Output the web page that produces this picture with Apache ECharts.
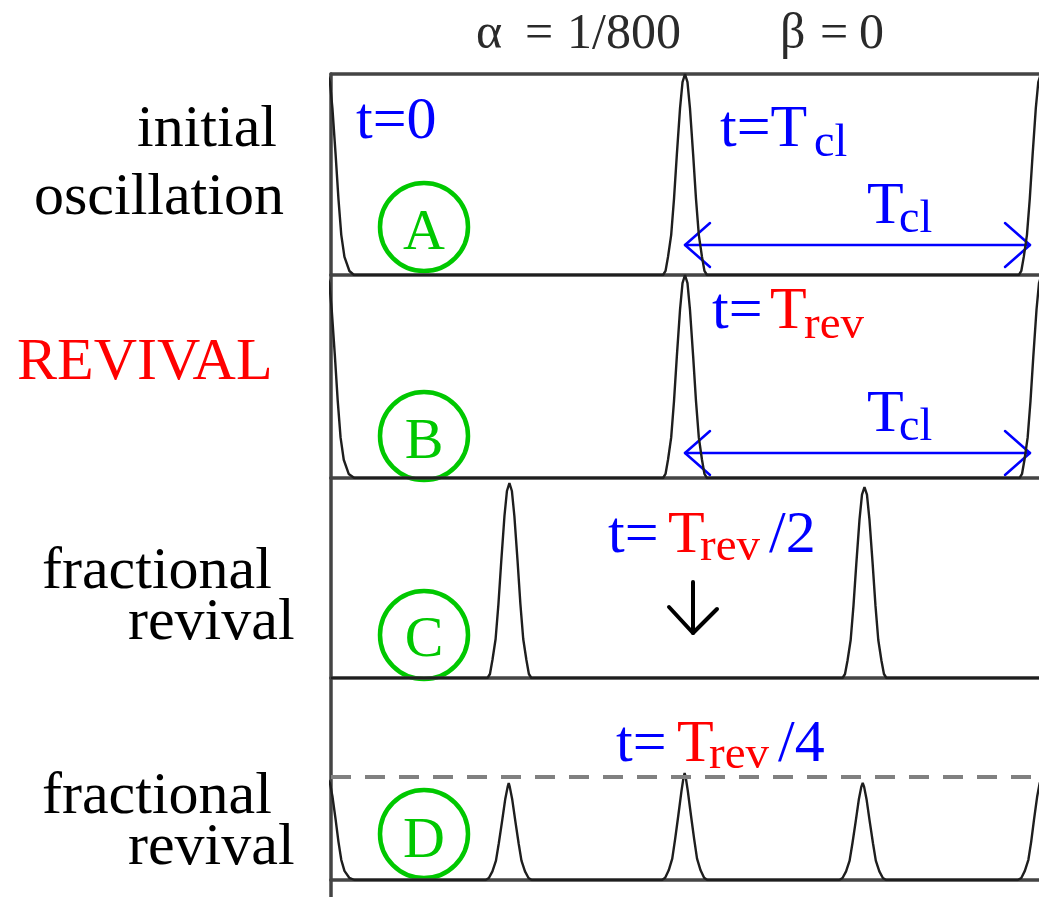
<!DOCTYPE html>
<html>
<head>
<meta charset="utf-8">
<script src="https://cdn.jsdelivr.net/npm/echarts@6/dist/echarts.min.js"></script>
<style>html,body{margin:0;padding:0;background:#fff;}#c{width:1039px;height:897px;}</style>
</head>
<body>
<div id="c"></div>
<script>
// ---- data (x in units of T_cl, y as fraction of panel height) ----
const panelNames = ['A', 'B', 'C', 'D'];
const peaksA = [[-0.01,1],[-0.003,0.96],[0.004,0.83],[0.013,0.6],[0.021,0.38],[0.029,0.2],[0.038,0.09],[0.052,0.02],[0.065,0],
  [0.938,0],[0.945,0.02],[0.952,0.09],[0.961,0.2],[0.969,0.38],[0.977,0.6],[0.986,0.83],[0.993,0.96],[1.0,1],
  [1.007,0.96],[1.014,0.83],[1.023,0.6],[1.031,0.38],[1.039,0.2],[1.048,0.09],[1.055,0.02],[1.062,0],
  [1.943,0],[1.95,0.02],[1.957,0.09],[1.966,0.2],[1.974,0.38],[1.982,0.6],[1.991,0.83],[1.998,0.96],[2.005,1]];
const peaksB = [[-0.012,1],[-0.005,0.96],[0.002,0.83],[0.011,0.6],[0.019,0.38],[0.027,0.2],[0.036,0.09],[0.05,0.02],[0.066,0],
  [0.938,0],[0.945,0.02],[0.952,0.09],[0.961,0.2],[0.969,0.38],[0.977,0.6],[0.986,0.83],[0.993,0.96],[1.0,1],
  [1.007,0.96],[1.014,0.83],[1.023,0.6],[1.031,0.38],[1.039,0.2],[1.048,0.09],[1.055,0.02],[1.062,0],
  [1.945,0],[1.952,0.02],[1.959,0.09],[1.968,0.2],[1.976,0.38],[1.984,0.6],[1.993,0.83],[2.0,0.96],[2.007,1]];
const peaksC = [[0,0],[0.442,0],[0.449,0.02],[0.456,0.09],[0.465,0.195],[0.473,0.37],[0.481,0.585],[0.49,0.81],[0.497,0.935],[0.504,0.975],
  [0.511,0.935],[0.518,0.81],[0.527,0.585],[0.535,0.37],[0.543,0.195],[0.552,0.09],[0.559,0.02],[0.566,0],
  [1.445,0],[1.452,0.02],[1.459,0.086],[1.468,0.19],[1.476,0.363],[1.484,0.573],[1.493,0.793],[1.5,0.917],[1.507,0.955],
  [1.514,0.917],[1.521,0.793],[1.53,0.573],[1.538,0.363],[1.546,0.19],[1.555,0.086],[1.562,0.02],[1.569,0],[2,0]];
const peaksD = [[-0.01,0.5],[-0.003,0.48],[0.004,0.415],[0.013,0.3],[0.021,0.19],[0.029,0.1],[0.038,0.045],[0.052,0.01],[0.066,0],
  [0.437,0],[0.446,0.01],[0.456,0.043],[0.466,0.096],[0.474,0.182],[0.483,0.288],[0.492,0.398],[0.499,0.461],[0.502,0.48],
  [0.505,0.461],[0.512,0.398],[0.521,0.288],[0.53,0.182],[0.538,0.096],[0.548,0.043],[0.558,0.01],[0.567,0],
  [0.935,0],[0.944,0.011],[0.954,0.048],[0.964,0.106],[0.972,0.201],[0.981,0.318],[0.99,0.44],[0.996,0.509],[0.999,0.53],
  [1.002,0.509],[1.008,0.44],[1.017,0.318],[1.026,0.201],[1.034,0.106],[1.044,0.048],[1.054,0.011],[1.063,0],
  [1.436,0],[1.445,0.01],[1.455,0.043],[1.465,0.096],[1.473,0.182],[1.482,0.288],[1.491,0.398],[1.498,0.461],[1.502,0.48],
  [1.506,0.461],[1.513,0.398],[1.522,0.288],[1.531,0.182],[1.539,0.096],[1.549,0.043],[1.559,0.01],[1.568,0],
  [1.94,0],[1.95,0.01],[1.96,0.045],[1.97,0.1],[1.978,0.19],[1.986,0.3],[1.995,0.415],[2.002,0.48],[2.008,0.5]];
const dashLevelD = 0.505;
const xRange = [0, 2];

// ---- layout ----
const panelTops = [74, 275, 478, 678, 880];
const panelHeights = [201, 203, 200, 202, 200];
const plotLeft = 331, plotWidth = 710;
const frameColor = '#444444', frameWidth = 3.5;
const serif = '"Liberation Serif", "Times New Roman", serif';
const BLUE = '#0000ff', RED = '#ff0000', GREEN = '#00c800';

const grids = panelTops.map((t, i) => ({ left: plotLeft, top: t, width: plotWidth, height: panelHeights[i] }));
const xAxes = grids.map((g, i) => ({
  type: 'value', gridIndex: i, min: xRange[0], max: xRange[1], position: 'bottom',
  axisLine: { show: i < 4, onZero: false, lineStyle: { color: frameColor, width: frameWidth } },
  axisTick: { show: false }, axisLabel: { show: false }, splitLine: { show: false }
}));
xAxes.push({
  type: 'value', gridIndex: 0, min: xRange[0], max: xRange[1], position: 'top',
  axisLine: { show: true, onZero: false, lineStyle: { color: frameColor, width: frameWidth } },
  axisTick: { show: false }, axisLabel: { show: false }, splitLine: { show: false }
});
const yAxes = grids.map((g, i) => ({
  type: 'value', gridIndex: i, min: 0, max: 1,
  axisLine: { show: true, onZero: false, lineStyle: { color: frameColor, width: frameWidth } },
  axisTick: { show: false }, axisLabel: { show: false }, splitLine: { show: false }
}));

const panelData = [peaksA, peaksB, peaksC, peaksD];
const series = panelData.map((d, i) => ({
  type: 'line', name: panelNames[i], xAxisIndex: i, yAxisIndex: i, data: d,
  showSymbol: false, symbol: 'none', clip: true, silent: true,
  lineStyle: { color: '#1e1e1e', width: 2.4 },
  markLine: i === 3 ? {
    silent: true, symbol: 'none', label: { show: false },
    lineStyle: { type: [20, 14], color: '#808080', width: 4 },
    data: [{ yAxis: dashLevelD }]
  } : undefined
}));

// ---- annotations (text placed by its alphabetic baseline) ----
function T(x, base, text, size, color, align) {
  return { type: 'text', x: x, y: base - 0.3375 * size, silent: true,
    style: { text: text, fill: color, font: size + 'px ' + serif, fontSize: size, fontFamily: serif,
      align: align || 'left', textAlign: align || 'left', verticalAlign: 'middle', textVerticalAlign: 'middle' } };
}
function poly(points, color, width) {
  return { type: 'polyline', silent: true, shape: { points: points },
    style: { stroke: color, lineWidth: width, fill: null, lineCap: 'round', lineJoin: 'round' } };
}
function circleLabel(cx, cy, letter, base) {
  return [
    { type: 'circle', silent: true, shape: { cx: cx, cy: cy, r: 44 }, style: { fill: null, stroke: GREEN, lineWidth: 4.5 } },
    T(cx, base, letter, 58, GREEN, 'center')
  ];
}
function doubleArrow(x1, x2, y, color) {
  return [
    poly([[x1, y], [x2, y]], color, 2.5),
    poly([[x1 + 25, y - 22], [x1, y], [x1 + 25, y + 22]], color, 2.5),
    poly([[x2 - 25, y - 22], [x2, y], [x2 - 25, y + 22]], color, 2.5)
  ];
}

const graphic = [].concat(
  // title
  T(476, 52, 'α', 50, '#2a2a2a'), T(525, 52, '=', 50, '#2a2a2a'), T(567, 52, '1/800', 50, '#2a2a2a'),
  T(780, 52, 'β', 50, '#2a2a2a'), T(820, 52, '=', 50, '#2a2a2a'), T(859, 52, '0', 50, '#2a2a2a'),
  // left labels
  T(137, 150, 'initial', 60, '#000'), T(34, 218, 'oscillation', 60, '#000'),
  T(17, 383, 'REVIVAL', 60, RED),
  T(42, 592, 'fractional', 60, '#000'), T(128, 643, 'revival', 60, '#000'),
  T(42, 817, 'fractional', 60, '#000'), T(128, 868, 'revival', 60, '#000'),
  // panel A
  T(356, 142, 't=0', 60, BLUE),
  T(720, 150, 't=T', 60, BLUE), T(814, 159, 'cl', 46, BLUE),
  doubleArrow(685, 1030, 245, BLUE),
  T(867, 227, 'T', 60, BLUE), T(899, 235, 'cl', 46, BLUE),
  circleLabel(424, 227, 'A', 253),
  // panel B
  T(712, 332, 't=', 60, BLUE), T(770, 332, 'T', 60, RED), T(804, 342, 'rev', 47, RED),
  doubleArrow(685, 1030, 453, BLUE),
  T(867, 435, 'T', 60, BLUE), T(899, 443, 'cl', 46, BLUE),
  circleLabel(424, 436, 'B', 462),
  // panel C
  T(608, 556, 't=', 60, BLUE), T(668, 556, 'T', 60, RED), T(700, 564, 'rev', 47, RED), T(769, 556, '/2', 60, BLUE),
  poly([[693, 582], [693, 633]], '#000', 4),
  poly([[669, 607], [693, 633], [717, 609]], '#000', 4),
  circleLabel(424, 635, 'C', 660),
  // panel D
  T(616, 765, 't=', 60, BLUE), T(677, 765, 'T', 60, RED), T(709, 772, 'rev', 47, RED), T(778, 765, '/4', 60, BLUE),
  circleLabel(424, 834, 'D', 861)
);

const chart = echarts.init(document.getElementById('c'), null, { renderer: 'canvas' });
chart.setOption({
  animation: false,
  backgroundColor: '#ffffff',
  grid: grids, xAxis: xAxes, yAxis: yAxes, series: series,
  graphic: graphic
});
</script>
</body>
</html>
